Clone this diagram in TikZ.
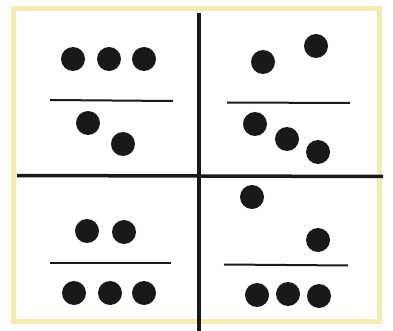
\documentclass[tikz,border=0pt]{standalone}
\usepackage{tikz}

\definecolor{framey}{RGB}{243,235,176}

\begin{document}
\begin{tikzpicture}[
    x=1pt, y=-1pt,
    dot/.style={
        circle,
        fill=black!90,
        inner sep=0pt,
        minimum size=24pt
    },
    barline/.style={line width=2pt, black!90},
    divider/.style={line width=3.5pt, black!90},
    frameline/.style={line width=5pt, framey}
]
\useasboundingbox (0,0) rectangle (393,331);

% ---------------------------------------------------------------------------
% Frame and dividers
% ---------------------------------------------------------------------------
\draw[frameline] (13,9) rectangle (379,321);

\coordinate (vtop) at (199,13);
\coordinate (vbot) at (199,331);
\coordinate (hleft) at (17,175.5);
\coordinate (hright) at (383,176.5);
\draw[divider] (vtop) -- (vbot);
\draw[divider] (hleft) -- (hright);

% ---------------------------------------------------------------------------
% Top left: 3 over 2
% ---------------------------------------------------------------------------
\node[dot] (a1) at (73,59) {};
\node[dot] (a2) at (109,59) {};
\node[dot] (a3) at (144,59) {};
\coordinate (abarl) at (50,100);
\coordinate (abarr) at (173,101);
\draw[barline] (abarl) -- (abarr);
\node[dot] (a4) at (88,123) {};
\node[dot] (a5) at (123,144) {};

% ---------------------------------------------------------------------------
% Top right: 2 over 3
% ---------------------------------------------------------------------------
\node[dot] (b1) at (263,62) {};
\node[dot] (b2) at (316,46) {};
\coordinate (bbarl) at (227,102.5);
\coordinate (bbarr) at (350,103);
\draw[barline] (bbarl) -- (bbarr);
\node[dot] (b3) at (255,124) {};
\node[dot] (b4) at (287,139) {};
\node[dot] (b5) at (318,152) {};

% ---------------------------------------------------------------------------
% Bottom left: 2 over 3
% ---------------------------------------------------------------------------
\node[dot] (c1) at (87,231) {};
\node[dot] (c2) at (124,232) {};
\coordinate (cbarl) at (50,263);
\coordinate (cbarr) at (171,263);
\draw[barline] (cbarl) -- (cbarr);
\node[dot] (c3) at (74,293) {};
\node[dot] (c4) at (110,293) {};
\node[dot] (c5) at (144,293) {};

% ---------------------------------------------------------------------------
% Bottom right: 2 over 3
% ---------------------------------------------------------------------------
\node[dot] (d1) at (252,197) {};
\node[dot] (d2) at (318,240) {};
\coordinate (dbarl) at (224,264.5);
\coordinate (dbarr) at (348,265.5);
\draw[barline] (dbarl) -- (dbarr);
\node[dot] (d3) at (257,295) {};
\node[dot] (d4) at (288,294) {};
\node[dot] (d5) at (319,296) {};

\end{tikzpicture}
\end{document}
